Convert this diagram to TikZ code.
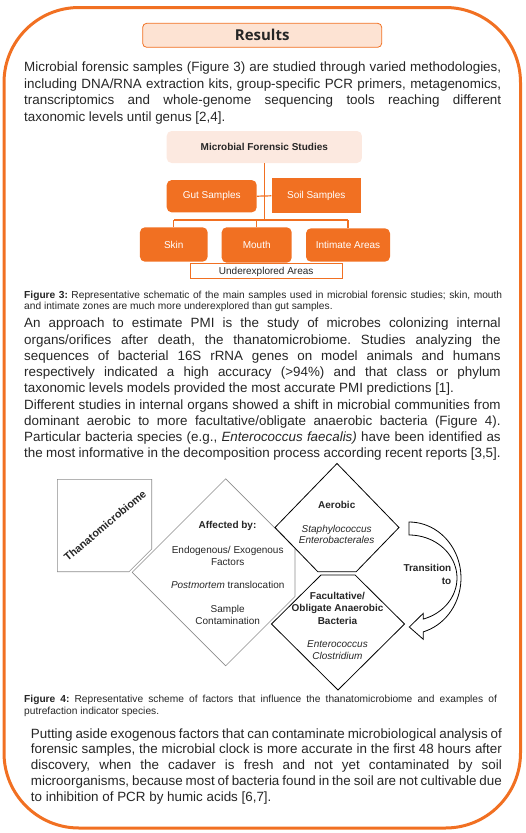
\documentclass[tikz,border=0pt]{standalone}
\usepackage{fontspec}
\setmainfont{Liberation Sans}
\newfontfamily\headfont{Open Sans}
\usetikzlibrary{calc}
\frenchspacing

\definecolor{frameorange}{HTML}{F17022}
\definecolor{peach}{HTML}{FDE3D3}
\definecolor{palepeach}{HTML}{FCE9E0}
\definecolor{ink}{HTML}{262626}
\definecolor{edgegray}{HTML}{8C8C8C}

% one justified line / one ragged last line of a paragraph
\newcommand\jline[1]{\hbox to \hsize{\strut #1}}
\newcommand\lline[1]{\hbox to \hsize{\strut #1\hfil}}

\tikzset{
  bodytext/.style={anchor=north west, inner sep=0pt, text=ink},
  orangebox/.style={fill=frameorange, text=white, rounded corners=5pt, inner sep=0pt,
    font=\fontsize{10}{12}\selectfont},
  link/.style={draw=frameorange, line width=1.2pt},
  grayedge/.style={draw=edgegray, line width=0.6pt},
  blackedge/.style={draw=black, line width=0.8pt},
  dtext/.style={inner sep=0pt, align=center, text=ink, font=\fontsize{10}{11.7}\selectfont},
}

\begin{document}
\begin{tikzpicture}[x=1pt,y=-1pt]
\useasboundingbox (0,0) rectangle (525,833);

% outer frame
\draw[frameorange, line width=3pt, rounded corners=75pt] (4,7.5) rectangle (520.5,828);

% heading
\node[fill=peach, draw=frameorange, line width=0.8pt, rounded corners=4pt,
      minimum width=239pt, minimum height=24pt, inner sep=0pt, text=ink,
      font=\headfont\bfseries\fontsize{15}{18}\selectfont] (results) at (262.2,35.3) {Results};

% first paragraph
\node[bodytext, font=\fontsize{13.4}{16.8}\selectfont] (par1) at (24,59.4) {\vtop{\hsize=477pt
\jline{Microbial forensic samples (Figure 3) are studied through varied methodologies,}
\jline{including DNA/RNA extraction kits, group-specific PCR primers, metagenomics,}
\jline{transcriptomics and whole-genome sequencing tools reaching different}
\lline{taxonomic levels until genus [2,4].}}};

% Figure 3: sample hierarchy
\node[fill=palepeach, rounded corners=5pt, inner sep=0pt, minimum width=195.3pt, minimum height=32pt,
      text=ink, font=\bfseries\fontsize{10}{12}\selectfont] (mfs) at (264.3,147) {Microbial Forensic Studies};
\node[orangebox, minimum width=90pt, minimum height=32.3pt] (gut) at (211.7,196.2) {Gut Samples};
\node[orangebox, sharp corners, minimum width=89.3pt, minimum height=35pt] (soil) at (316.3,195.8) {Soil Samples};
\node[draw=frameorange, fill=white, line width=1pt, inner sep=0pt, minimum width=152.3pt, minimum height=15pt,
      text=ink, font=\fontsize{10}{12}\selectfont, text depth=0pt, yshift=-1pt] (under) at (266.2,270) {Underexplored Areas};
\node[orangebox, minimum width=67.7pt, minimum height=34.4pt] (skin) at (173.8,244.5) {Skin};
\node[orangebox, minimum width=70pt, minimum height=35.4pt] (mouth) at (256.7,245) {Mouth};
\node[orangebox, minimum width=84pt, minimum height=33.4pt] (intimate) at (348,245) {Intimate Areas};

\coordinate (bus) at (265,220);
\draw[link] (mfs.south) -- (mfs.south |- bus);
\draw[link] (gut.east) -- (soil.west);
\draw[link] (skin.north |- bus) -- (intimate.north |- bus);
\draw[link] (skin.north) -- (skin.north |- bus);
\draw[link] (mouth.north) -- (mouth.north |- bus);
\draw[link] (intimate.north) -- (intimate.north |- bus);

% caption of Figure 3
\node[bodytext, font=\fontsize{10.2}{11.2}\selectfont] (cap3) at (24,290.6) {\vtop{\hsize=478pt
\jline{\textbf{Figure 3:} Representative schematic of the main samples used in microbial forensic studies; skin, mouth}
\lline{and intimate zones are much more underexplored than gut samples.}}};

% second paragraph
\node[bodytext, font=\fontsize{13.4}{16.25}\selectfont] (par2) at (24,316.4) {\vtop{\hsize=476.5pt
\jline{An approach to estimate PMI is the study of microbes colonizing internal}
\jline{organs/orifices after death, the thanatomicrobiome. Studies analyzing the}
\jline{sequences of bacterial 16S rRNA genes on model animals and humans}
\jline{respectively indicated a high accuracy (>94\%) and that class or phylum}
\lline{taxonomic levels models provided the most accurate PMI predictions [1].}
\jline{Different studies in internal organs showed a shift in microbial communities from}
\jline{dominant aerobic to more facultative/obligate anaerobic bacteria (Figure 4).}
\jline{Particular bacteria species (e.g., \textit{Enterococcus faecalis)} have been identified as}
\lline{the most informative in the decomposition process according recent reports [3,5].}}};

% Figure 4: thanatomicrobiome scheme
\draw[grayedge] (57.3,479.3) -- (151.7,479.3) -- (151.7,549) -- (129,571.7) -- (57.3,571.7) -- cycle;
\node[inner sep=0pt, rotate=40, text=ink, font=\bfseries\fontsize{10.8}{13}\selectfont] (thana) at (105,525.5) {Thanatomicrobiome};

\draw[grayedge] (225.7,478.8) -- (295,548.1) -- (295,596.5) -- (225.7,665.8) -- (132.2,572.3) -- cycle;
\node[dtext, font=\bfseries\fontsize{10}{11.7}\selectfont] (affected) at (227.5,526) {Affected by:};
\node[dtext] (factors) at (227.7,555.8) {Endogenous/ Exogenous\\Factors};
\node[dtext] (transloc) at (227.7,585) {\textit{Postmortem} translocation};
\node[dtext] (contam) at (227.7,614.8) {Sample\\Contamination};

\draw[blackedge] (337,463.5) -- (399,527.5) -- (356.2,571.7) -- (317.8,571.7) -- (275,527.5) -- cycle;
\node[dtext, font=\bfseries\fontsize{10}{11.7}\selectfont] (aerobic) at (336.7,505) {Aerobic};
\node[dtext, font=\itshape\fontsize{10}{11.3}\selectfont] (aerosp) at (336.7,534.7) {Staphylococcus\\Enterobacterales};

\draw[blackedge] (321,575) -- (355.1,575) -- (404.5,624) -- (338,690) -- (271.5,624) -- cycle;
\node[dtext, font=\bfseries\fontsize{10}{12.6}\selectfont] (anaerobic) at (337.5,608.3) {Facultative/\\Obligate Anaerobic\\Bacteria};
\node[dtext, font=\itshape\fontsize{10}{11.3}\selectfont] (anaerosp) at (337.5,650) {Enterococcus\\Clostridium};

% curved transition arrow
\draw[blackedge, fill=white, line join=miter]
  (409,522)
  -- plot[domain=-90:74, samples=40, variable=\t] ({409+52*cos(\t)},{578+56*sin(\t)})
  -- (423.3,639.3) -- (409.3,627) -- (423.3,613.3) -- (423.3,618.3)
  -- plot[domain=72.7:-90, samples=40, variable=\t] ({409+48*cos(\t)},{578+43*sin(\t)})
  -- cycle;
\node[inner sep=0pt, align=right, anchor=east, text=ink, font=\bfseries\fontsize{10}{12.4}\selectfont]
  (transition) at (451.5,574.5) {Transition\\to};

% caption of Figure 4
\node[bodytext, font=\fontsize{10.2}{12.7}\selectfont] (cap4) at (24,693.1) {\vtop{\hsize=472.7pt
\jline{\textbf{Figure 4:} Representative scheme of factors that influence the thanatomicrobiome and examples of}
\lline{putrefaction indicator species.}}};

% closing paragraph
\node[bodytext, font=\fontsize{13.4}{15.85}\selectfont] (par4) at (30.7,726.7) {\vtop{\hsize=471pt
\jline{Putting aside exogenous factors that can contaminate microbiological analysis of}
\jline{forensic samples, the microbial clock is more accurate in the first 48 hours after}
\jline{discovery, when the cadaver is fresh and not yet contaminated by soil}
\jline{microorganisms, because most of bacteria found in the soil are not cultivable due}
\lline{to inhibition of PCR by humic acids [6,7].}}};

\end{tikzpicture}
\end{document}
